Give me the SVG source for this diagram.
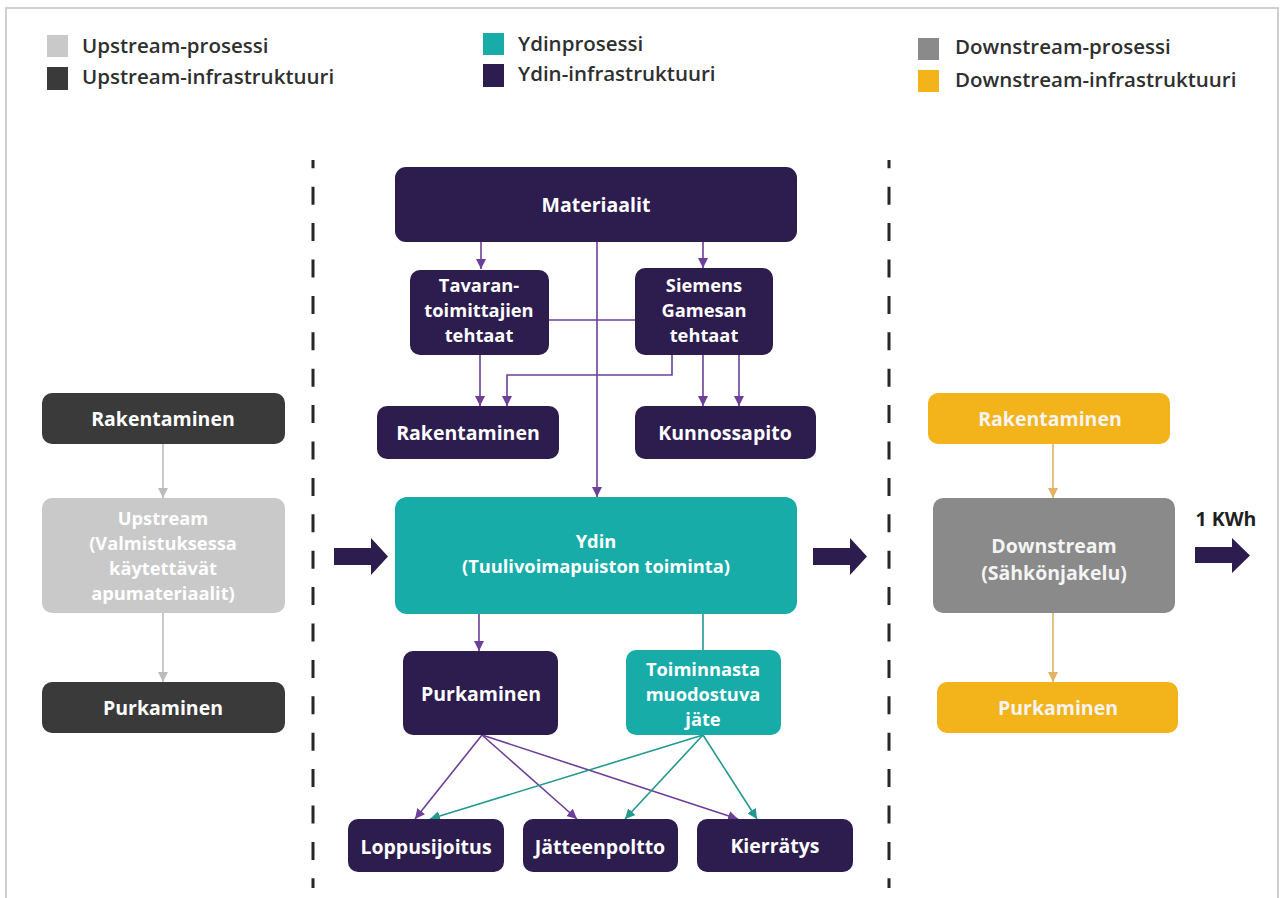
<svg xmlns="http://www.w3.org/2000/svg" width="1281" height="898" viewBox="0 0 1281 898">
  <defs>
    <style>
      text { font-family: "Open Sans", "Noto Sans", "DejaVu Sans", sans-serif; font-weight: 700; }
      .legend { font-size: 20.5px; font-weight: 600; fill: #2f2f2f; }
      .lbl { font-size: 19.5px; fill: #ffffff; text-anchor: middle; }
      .lbl-soft { font-size: 19.5px; fill: #f4f4f4; text-anchor: middle; }
      .multi { font-size: 18.3px; }
      .core-infra { fill: #2d1c4e; }
      .core-proc { fill: #17aca8; }
      .up-infra { fill: #3a3a3a; }
      .up-proc { fill: #c9c9c9; }
      .down-infra { fill: #f3b31b; }
      .down-proc { fill: #8a8a8a; }
      .c-purple { stroke: #6c3f98; stroke-width: 1.6; fill: none; }
      .c-teal { stroke: #23998f; stroke-width: 1.6; fill: none; }
      .c-gray { stroke: #bcbcbc; stroke-width: 1.6; fill: none; }
      .c-yellow { stroke: #e2b265; stroke-width: 1.6; fill: none; }
      .divider { stroke: #262626; stroke-width: 3; stroke-dasharray: 18 18.4; fill: none; }
      .flow { fill: #2d1c4e; }
    </style>
    <marker id="ah-purple" viewBox="0 0 10 10" refX="10" refY="5" markerWidth="10" markerHeight="10" markerUnits="userSpaceOnUse" orient="auto">
      <path d="M0,0 L10,5 L0,10 Z" fill="#6c3f98"/>
    </marker>
    <marker id="ah-teal" viewBox="0 0 10 10" refX="10" refY="5" markerWidth="10" markerHeight="10" markerUnits="userSpaceOnUse" orient="auto">
      <path d="M0,0 L10,5 L0,10 Z" fill="#23998f"/>
    </marker>
    <marker id="ah-gray" viewBox="0 0 10 10" refX="10" refY="5" markerWidth="10" markerHeight="10" markerUnits="userSpaceOnUse" orient="auto">
      <path d="M0,0 L10,5 L0,10 Z" fill="#bcbcbc"/>
    </marker>
    <marker id="ah-yellow" viewBox="0 0 10 10" refX="10" refY="5" markerWidth="10" markerHeight="10" markerUnits="userSpaceOnUse" orient="auto">
      <path d="M0,0 L10,5 L0,10 Z" fill="#e2b265"/>
    </marker>
  </defs>

  <!-- page background and frame -->
  <rect x="0" y="0" width="1281" height="898" fill="#ffffff"/>
  <rect x="6" y="8" width="1272" height="900" fill="none" stroke="#cfcfcf" stroke-width="2"/>

  <!-- legend -->
  <g id="legend">
    <rect x="47" y="35" width="21" height="22" class="up-proc"/>
    <text x="82" y="53" class="legend">Upstream-prosessi</text>
    <rect x="47" y="67" width="21" height="23" class="up-infra"/>
    <text x="82" y="84" class="legend">Upstream-infrastruktuuri</text>
    <rect x="483" y="33" width="21" height="22" class="core-proc"/>
    <text x="518" y="51" class="legend">Ydinprosessi</text>
    <rect x="483" y="64" width="21" height="23" class="core-infra"/>
    <text x="518" y="81" class="legend">Ydin-infrastruktuuri</text>
    <rect x="918" y="38" width="21" height="22" class="down-proc"/>
    <text x="955" y="54" class="legend">Downstream-prosessi</text>
    <rect x="918" y="70" width="21" height="22" class="down-infra"/>
    <text x="955" y="87" class="legend">Downstream-infrastruktuuri</text>
  </g>

  <!-- section dividers -->
  <g id="dividers">
    <line x1="313" y1="160" x2="313" y2="888" class="divider" stroke-dashoffset="9.7"/>
    <line x1="889" y1="160" x2="889" y2="888" class="divider" stroke-dashoffset="9.7"/>
  </g>

  <!-- connectors -->
  <g id="connectors">
    <!-- core infrastructure -->
    <line x1="481" y1="242" x2="481" y2="269" class="c-purple" marker-end="url(#ah-purple)"/>
    <line x1="703" y1="242" x2="703" y2="268" class="c-purple" marker-end="url(#ah-purple)"/>
    <line x1="597" y1="242" x2="597" y2="497" class="c-purple" marker-end="url(#ah-purple)"/>
    <line x1="549" y1="320" x2="635" y2="320" class="c-purple"/>
    <line x1="480" y1="355" x2="480" y2="406" class="c-purple" marker-end="url(#ah-purple)"/>
    <polyline points="672,355 672,375 507,375 507,406" class="c-purple" marker-end="url(#ah-purple)"/>
    <line x1="703" y1="355" x2="703" y2="406" class="c-purple" marker-end="url(#ah-purple)"/>
    <line x1="739" y1="355" x2="739" y2="406" class="c-purple" marker-end="url(#ah-purple)"/>
    <!-- core process to end of life -->
    <line x1="479" y1="614" x2="479" y2="651" class="c-purple" marker-end="url(#ah-purple)"/>
    <line x1="703" y1="614" x2="703" y2="650" class="c-teal"/>
    <line x1="482" y1="735" x2="415" y2="819" class="c-purple" marker-end="url(#ah-purple)"/>
    <line x1="482" y1="735" x2="577" y2="819" class="c-purple" marker-end="url(#ah-purple)"/>
    <line x1="482" y1="735" x2="738" y2="819" class="c-purple" marker-end="url(#ah-purple)"/>
    <line x1="703" y1="735" x2="430" y2="819" class="c-teal" marker-end="url(#ah-teal)"/>
    <line x1="703" y1="735" x2="625" y2="819" class="c-teal" marker-end="url(#ah-teal)"/>
    <line x1="703" y1="735" x2="757" y2="819" class="c-teal" marker-end="url(#ah-teal)"/>
    <!-- upstream -->
    <line x1="163" y1="444" x2="163" y2="498" class="c-gray" marker-end="url(#ah-gray)"/>
    <line x1="163" y1="613" x2="163" y2="682" class="c-gray" marker-end="url(#ah-gray)"/>
    <!-- downstream -->
    <line x1="1053" y1="444" x2="1053" y2="498" class="c-yellow" marker-end="url(#ah-yellow)"/>
    <line x1="1053" y1="613" x2="1053" y2="682" class="c-yellow" marker-end="url(#ah-yellow)"/>
    <!-- main flow arrows -->
    <path d="M334,548 H371 V538 L388,556.5 L371,575 V565 H334 Z" class="flow"/>
    <path d="M813,548 H850 V538 L867,556.5 L850,575 V565 H813 Z" class="flow"/>
    <path d="M1195,547 H1232 V538 L1250,555.5 L1232,573 V563 H1195 Z" class="flow"/>
  </g>
  <text x="1226" y="526" style="font-size:19.5px; fill:#1f1f1f; text-anchor:middle">1 KWh</text>

  <!-- core nodes -->
  <g id="materiaalit">
    <rect x="395" y="167" width="402" height="75" rx="11" class="core-infra"/>
    <text x="596" y="212" class="lbl">Materiaalit</text>
  </g>
  <g id="tavarantoimittajien-tehtaat">
    <rect x="410" y="270" width="139" height="85" rx="10" class="core-infra"/>
    <text class="lbl multi"><tspan x="479" y="292">Tavaran-</tspan><tspan x="479" dy="25">toimittajien</tspan><tspan x="479" dy="25">tehtaat</tspan></text>
  </g>
  <g id="siemens-gamesan-tehtaat">
    <rect x="635" y="268" width="138" height="87" rx="10" class="core-infra"/>
    <text class="lbl multi"><tspan x="704" y="292">Siemens</tspan><tspan x="704" dy="25">Gamesan</tspan><tspan x="704" dy="25">tehtaat</tspan></text>
  </g>
  <g id="ydin-rakentaminen">
    <rect x="377" y="406" width="182" height="53" rx="10" class="core-infra"/>
    <text x="468" y="440" class="lbl">Rakentaminen</text>
  </g>
  <g id="kunnossapito">
    <rect x="635" y="406" width="181" height="53" rx="10" class="core-infra"/>
    <text x="725" y="440" class="lbl">Kunnossapito</text>
  </g>
  <g id="ydin">
    <rect x="395" y="497" width="402" height="117" rx="12" class="core-proc"/>
    <text class="lbl multi"><tspan x="596" y="548">Ydin</tspan><tspan x="596" dy="25">(Tuulivoimapuiston toiminta)</tspan></text>
  </g>
  <g id="ydin-purkaminen">
    <rect x="403" y="651" width="155" height="84" rx="10" class="core-infra"/>
    <text x="481" y="701" class="lbl">Purkaminen</text>
  </g>
  <g id="toiminnasta-muodostuva-jate">
    <rect x="626" y="650" width="155" height="85" rx="10" class="core-proc"/>
    <text class="lbl multi"><tspan x="703" y="676">Toiminnasta</tspan><tspan x="703" dy="25">muodostuva</tspan><tspan x="703" dy="25">jäte</tspan></text>
  </g>
  <g id="loppusijoitus">
    <rect x="348" y="819" width="156" height="53" rx="10" class="core-infra"/>
    <text x="426" y="854" class="lbl">Loppusijoitus</text>
  </g>
  <g id="jatteenpoltto">
    <rect x="523" y="819" width="155" height="53" rx="10" class="core-infra"/>
    <text x="600" y="854" class="lbl">Jätteenpoltto</text>
  </g>
  <g id="kierratys">
    <rect x="697" y="819" width="156" height="53" rx="10" class="core-infra"/>
    <text x="775" y="853" class="lbl">Kierrätys</text>
  </g>

  <!-- upstream nodes -->
  <g id="upstream-rakentaminen">
    <rect x="42" y="393" width="243" height="51" rx="10" class="up-infra"/>
    <text x="163" y="426" class="lbl">Rakentaminen</text>
  </g>
  <g id="upstream">
    <rect x="42" y="498" width="243" height="115" rx="10" class="up-proc"/>
    <text class="lbl multi"><tspan x="163" y="525">Upstream</tspan><tspan x="163" dy="25">(Valmistuksessa</tspan><tspan x="163" dy="25">käytettävät</tspan><tspan x="163" dy="25">apumateriaalit)</tspan></text>
  </g>
  <g id="upstream-purkaminen">
    <rect x="42" y="682" width="243" height="51" rx="10" class="up-infra"/>
    <text x="163" y="715" class="lbl">Purkaminen</text>
  </g>

  <!-- downstream nodes -->
  <g id="downstream-rakentaminen">
    <rect x="928" y="393" width="242" height="51" rx="10" class="down-infra"/>
    <text x="1050" y="426" class="lbl-soft">Rakentaminen</text>
  </g>
  <g id="downstream">
    <rect x="933" y="498" width="242" height="115" rx="10" class="down-proc"/>
    <text class="lbl-soft"><tspan x="1054" y="553">Downstream</tspan><tspan x="1054" dy="27">(Sähkönjakelu)</tspan></text>
  </g>
  <g id="downstream-purkaminen">
    <rect x="937" y="682" width="241" height="51" rx="10" class="down-infra"/>
    <text x="1058" y="715" class="lbl-soft">Purkaminen</text>
  </g>
</svg>
